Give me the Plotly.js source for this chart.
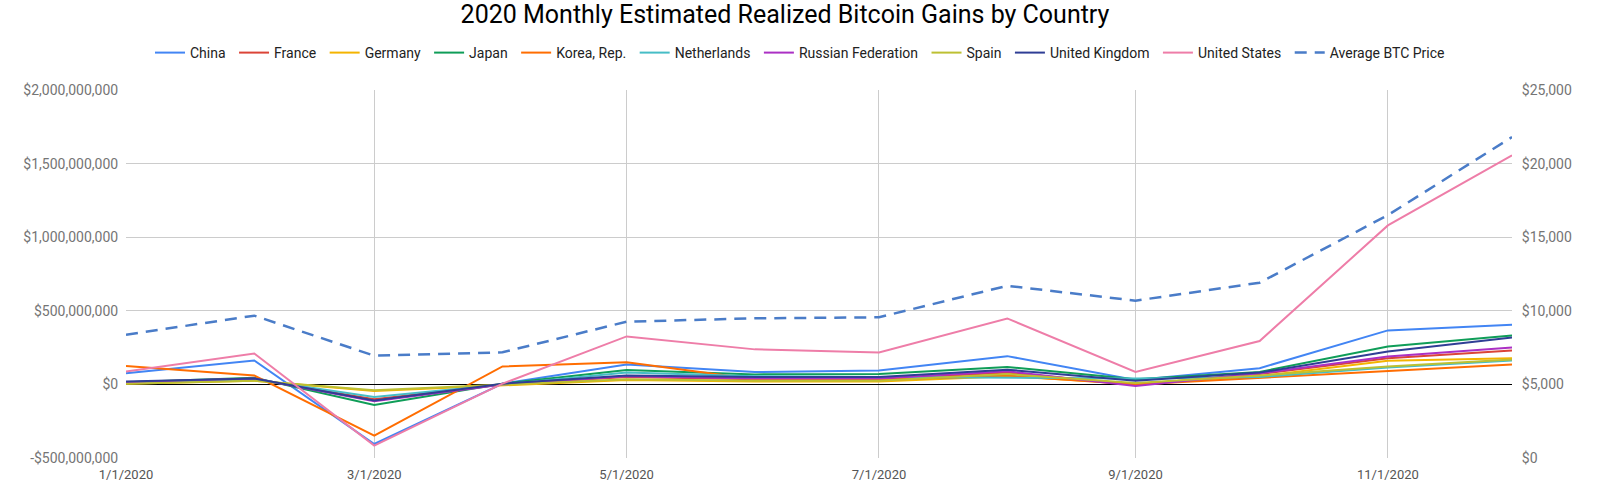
<!DOCTYPE html>
<html>
<head>
<meta charset="utf-8">
<script src="https://cdn.plot.ly/plotly-3.0.1.min.js"></script>
<style>
  html, body { margin: 0; padding: 0; background: #fff; }
  #chart { width: 1600px; height: 481px; }
</style>
</head>
<body>
<div id="chart"></div>
<script>
// ---- data ----
const months = ["2020-01-01","2020-02-01","2020-03-01","2020-04-01","2020-05-01","2020-06-01",
                "2020-07-01","2020-08-01","2020-09-01","2020-10-01","2020-11-01","2020-12-01"];

const china       = [75000000, 163000000, -405000000, 5000000, 135000000, 84000000, 95000000, 192000000, 30000000, 110000000, 367000000, 405000000];
const france      = [10000000, 35000000, -100000000, 0, 50000000, 35000000, 35000000, 80000000, 0, 70000000, 177000000, 231000000];
const germany     = [5000000, 25000000, -45000000, -5000000, 30000000, 20000000, 20000000, 55000000, 5000000, 55000000, 160000000, 177000000];
const japan       = [15000000, 45000000, -140000000, 5000000, 97000000, 68000000, 70000000, 118000000, 35000000, 85000000, 258000000, 333000000];
const korea       = [125000000, 61000000, -348000000, 122000000, 150000000, 35000000, 30000000, 60000000, 0, 45000000, 95000000, 136000000];
const netherlands = [10000000, 35000000, -85000000, 0, 80000000, 55000000, 50000000, 45000000, 40000000, 50000000, 115000000, 163000000];
const russia      = [15000000, 40000000, -115000000, 0, 55000000, 40000000, 40000000, 90000000, -10000000, 75000000, 190000000, 251000000];
const spain       = [5000000, 25000000, -40000000, 0, 35000000, 25000000, 25000000, 70000000, 10000000, 60000000, 122000000, 170000000];
const uk          = [20000000, 40000000, -110000000, 5000000, 61000000, 50000000, 50000000, 100000000, 25000000, 80000000, 224000000, 319000000];
const us          = [88000000, 210000000, -416000000, 5000000, 326000000, 238000000, 217000000, 448000000, 84000000, 295000000, 1080000000, 1556000000];
const btcPrice    = [8380, 9670, 6950, 7180, 9260, 9490, 9560, 11700, 10690, 11910, 16500, 21800];

const leftTickVals  = [-500000000, 0, 500000000, 1000000000, 1500000000, 2000000000];
const leftTickText  = ["-$500,000,000", "$0", "$500,000,000", "$1,000,000,000", "$1,500,000,000", "$2,000,000,000"];
const rightTickVals = [0, 5000, 10000, 15000, 20000, 25000];
const rightTickText = ["$0", "$5,000", "$10,000", "$15,000", "$20,000", "$25,000"];
const xTickVals = ["2020-01-01","2020-03-01","2020-05-01","2020-07-01","2020-09-01","2020-11-01"];
const xTickText = ["1/1/2020","3/1/2020","5/1/2020","7/1/2020","9/1/2020","11/1/2020"];

const series = [
  {name: "China", y: china, color: "#4285F4"},
  {name: "France", y: france, color: "#DB4437"},
  {name: "Germany", y: germany, color: "#F4B400"},
  {name: "Japan", y: japan, color: "#0F9D58"},
  {name: "Korea, Rep.", y: korea, color: "#FF6D01"},
  {name: "Netherlands", y: netherlands, color: "#46BDC6"},
  {name: "Russian Federation", y: russia, color: "#AB30C4"},
  {name: "Spain", y: spain, color: "#BDC032"},
  {name: "United Kingdom", y: uk, color: "#2F3E95"},
  {name: "United States", y: us, color: "#EE7DA8"}
];

const pad = "\u00a0";
const traces = series.map(s => ({
  type: "scatter", mode: "lines", name: s.name + pad, x: months, y: s.y,
  line: {color: s.color, width: 2}, hoverinfo: "skip"
}));
traces.push({
  type: "scatter", mode: "lines", name: "Average BTC Price", x: months, y: btcPrice,
  yaxis: "y2", line: {color: "#4A7CC8", width: 2.5, dash: "12px,8px"}, hoverinfo: "skip"
});

const font = "Roboto, 'Open Sans', sans-serif";
const layout = {
  width: 1600, height: 481,
  margin: {l: 126, r: 88, t: 90, b: 23, pad: 0},
  paper_bgcolor: "#fff", plot_bgcolor: "#fff",
  font: {family: font, size: 14, color: "#222"},
  title: {text: "2020 Monthly Estimated Realized Bitcoin Gains by Country",
          font: {family: font, size: 25, color: "#000"},
          x: 785/1600, xref: "container", xanchor: "center", y: 1 - 14/481, yref: "container", yanchor: "middle"},
  showlegend: true,
  legend: {orientation: "h", x: 0.5, xref: "container", xanchor: "center",
           y: 1 - 53/481, yref: "container", yanchor: "middle",
           font: {family: font, size: 14, color: "#222"},
           itemwidth: 30, tracegroupgap: 0, bgcolor: "rgba(0,0,0,0)"},
  xaxis: {
    type: "date", range: ["2020-01-01", "2020-12-01"],
    tickvals: xTickVals, ticktext: xTickText,
    showgrid: true, gridcolor: "#cccccc", gridwidth: 1,
    showline: false, zeroline: false,
    ticks: "outside", ticklen: 4, tickcolor: "rgba(0,0,0,0)",
    tickfont: {family: font, size: 13, color: "#555"}
  },
  yaxis: {
    range: [-500000000, 2000000000],
    tickvals: leftTickVals, ticktext: leftTickText,
    showgrid: true, gridcolor: "#cccccc", gridwidth: 1,
    zeroline: true, zerolinecolor: "#000", zerolinewidth: 1.3,
    showline: false, ticks: "outside", ticklen: 4, tickcolor: "rgba(0,0,0,0)",
    tickfont: {family: font, size: 14, color: "#757575"}
  },
  yaxis2: {
    overlaying: "y", side: "right",
    range: [0, 25000],
    tickvals: rightTickVals, ticktext: rightTickText,
    showgrid: false, zeroline: false, showline: false,
    ticks: "outside", ticklen: 6, tickcolor: "rgba(0,0,0,0)",
    tickfont: {family: font, size: 14, color: "#757575"}
  }
};

Plotly.newPlot("chart", traces, layout, {staticPlot: true, displayModeBar: false});
</script>
</body>
</html>
